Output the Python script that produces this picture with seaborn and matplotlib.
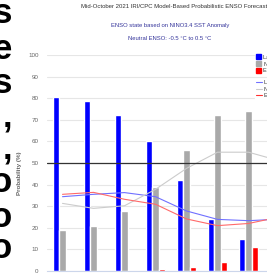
import numpy as np
import pandas as pd
import matplotlib
matplotlib.use("Agg")
import matplotlib.pyplot as plt
from matplotlib.patches import Patch
from matplotlib.lines import Line2D
import seaborn as sns

# Seasons of the forecast (only the first seven are visible in the crop)
seasons = ["OND", "NDJ", "DJF", "JFM", "FMA", "MAM", "AMJ", "MJJ", "JJA"]

# Forecast probabilities (%)
la_nina = [80.5, 78.5, 72, 60, 42, 24, 15, 14, 14]
neutral = [19, 21, 28, 39, 56, 72, 74, 68, 61]
el_nino = [0, 0, 0, 1, 1.7, 4, 11, 18, 25]

# Climatological probabilities (%)
la_nina_clim = [34.4, 35.5, 36.3, 34.4, 27.8, 23.9, 23.3, 24, 24]
neutral_clim = [31.3, 29.0, 30.2, 37.8, 47.5, 55, 55, 51, 48]
el_nino_clim = [35.5, 36.4, 33.2, 30.9, 24.1, 21, 22, 25, 28]

# Stray characters cut at the left edge of the crop
side_chars = ["s", "e", "s", ",", ",", "o", "o", "o"]

sns.set_theme(style="white")
plt.rcParams["font.family"] = ["Liberation Sans", "DejaVu Sans"]

df = pd.DataFrame({
    "season": seasons * 3,
    "prob": la_nina + neutral + el_nino,
    "cat": ["La Niña"] * len(seasons) + ["Neutral"] * len(seasons) + ["El Niño"] * len(seasons),
})
colors = {"La Niña": "#0000ff", "Neutral": "#a9a9a9", "El Niño": "#ff0000"}

W, H = 267, 279
fig = plt.figure(figsize=(W / 100, H / 100), dpi=100)
# axes run past the right edge: the reference is a crop of a wider chart
ax = fig.add_axes([47 / W, 8 / H, 279 / W, 216 / H])

sns.barplot(data=df, x="season", y="prob", hue="cat", palette=colors,
            width=0.64, gap=0.05, saturation=1, legend=False, ax=ax)

x = np.arange(len(seasons))
sns.lineplot(x=x, y=la_nina_clim, color="#7070ff", lw=0.8, ax=ax)
sns.lineplot(x=x, y=neutral_clim, color="#cccccc", lw=0.8, ax=ax)
sns.lineplot(x=x, y=el_nino_clim, color="#ff6a6a", lw=0.8, ax=ax)
ax.axhline(50, color="#333333", lw=0.9)

ax.set_xlim(-0.5, len(seasons) - 0.5)
ax.set_ylim(0, 100)
ax.set_yticks(range(0, 101, 10))
ax.yaxis.grid(True, color="#e6e6e6", lw=0.8)
ax.set_axisbelow(True)
ax.tick_params(axis="y", length=0, pad=6, labelsize=4.5, labelcolor="#666666")
ax.tick_params(axis="x", length=0, labelbottom=False)
ax.set_xlabel("")
ax.set_ylabel("")
for s in ["top", "right", "left"]:
    ax.spines[s].set_visible(False)
ax.spines["bottom"].set_color("#ccd6eb")
ax.spines["bottom"].set_linewidth(0.8)

fig.text(20 / W, 1 - 173 / H, "Probability (%)", rotation=90, ha="center", va="center",
         fontsize=4.5, color="#666666", fontweight="bold")

fig.text(81 / W, 1 - 6 / H, "Mid-October 2021 IRI/CPC Model-Based Probabilistic ENSO Forecasts",
         ha="left", va="center", fontsize=4.3, color="#333333")
fig.text(170 / W, 1 - 26 / H, "ENSO state based on NINO3.4 SST Anomaly",
         ha="center", va="center", fontsize=4.2, color="#33339a")
fig.text(170 / W, 1 - 38 / H, "Neutral ENSO: -0.5 °C to 0.5 °C",
         ha="center", va="center", fontsize=4.2, color="#33339a")

bar_handles = [Patch(color=colors[k], label=k) for k in ["La Niña", "Neutral", "El Niño"]]
fig.legend(handles=bar_handles, loc="upper left", bbox_to_anchor=(252 / W, 1 - 50 / H),
           fontsize=4, frameon=True, facecolor="white", edgecolor="white", framealpha=1,
           handlelength=0.8, handleheight=1.0, handletextpad=0.4, labelspacing=0.25,
           borderpad=0.3, labelcolor="#333333")
line_handles = [Line2D([], [], color="#7070ff", lw=0.8, label="La Niña clim"),
                Line2D([], [], color="#cccccc", lw=0.8, label="Neutral clim"),
                Line2D([], [], color="#ff3030", lw=0.8, label="El Niño clim")]
fig.legend(handles=line_handles, loc="upper left", bbox_to_anchor=(252 / W, 1 - 76 / H),
           fontsize=4, frameon=True, facecolor="white", edgecolor="white", framealpha=1,
           handlelength=1.0, handletextpad=0.4, labelspacing=0.25, borderpad=0.3,
           labelcolor="#333333")

baselines = [23, 59, 93, 126, 159, 192, 227, 258]
for ch, yb in zip(side_chars, baselines):
    fig.text(12 / W, 1 - yb / H, ch, ha="right", va="baseline", fontsize=25,
             fontweight="bold", color="black")

fig.savefig("out.png", dpi=100)
